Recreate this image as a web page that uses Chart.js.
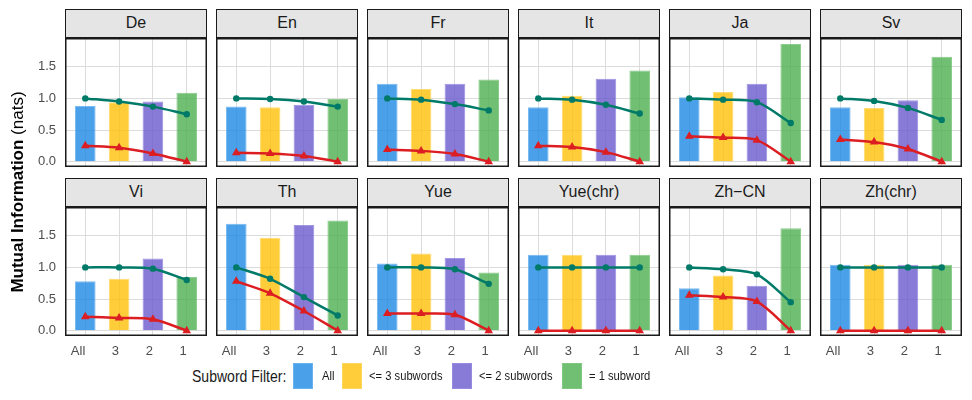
<!DOCTYPE html>
<html>
<head>
<meta charset="utf-8">
<script src="https://cdn.jsdelivr.net/npm/chart.js@4/dist/chart.umd.min.js"></script>
<style>
  html, body { margin:0; padding:0; }
  body { width:972px; height:400px; background:#fff; position:relative; overflow:hidden;
         font-family:"Liberation Sans", Arial, Helvetica, sans-serif; color:#1a1a1a; }
  .strip { position:absolute; box-sizing:border-box; border:1.5px solid #1a1a1a; background:#e5e5e5;
           text-align:center; font-size:16px; line-height:26px; color:#1a1a1a; }
  canvas { position:absolute; }
  .ytitle { position:absolute; width:320px; text-align:center; font-size:17px; line-height:20px;
            transform:rotate(-90deg); white-space:nowrap; color:#000; }
  .ytitle b { font-weight:bold; }
  .leg-title { position:absolute; font-size:16.5px; line-height:20px; white-space:nowrap; transform-origin:left center; transform:scaleX(0.85); }
  .leg-box { position:absolute; box-sizing:border-box; border:1px solid; }
  .leg-label { position:absolute; font-size:13.5px; line-height:16px; white-space:nowrap; transform-origin:left center; transform:scaleX(0.83); }
</style>
</head>
<body>
<div id="root"></div>
<script>
// ---------------- data ----------------
const panels = ['De','En','Fr','It','Ja','Sv','Vi','Th','Yue','Yue(chr)','Zh\u2212CN','Zh(chr)'];
const categories = ['All','3','2','1'];
const filterLabels = ['All','<= 3 subwords','<= 2 subwords','= 1 subword'];
const yTicks = [0, 0.5, 1.0, 1.5];

// bar heights per panel (one array per subword filter)
const barAll = [0.88, 0.87, 1.23, 0.86, 1.02, 0.86, 0.78, 1.69, 1.06, 1.20, 0.67, 1.04];
const bar3   = [0.94, 0.86, 1.15, 1.04, 1.10, 0.85, 0.82, 1.47, 1.22, 1.20, 0.87, 1.04];
const bar2   = [0.95, 0.90, 1.23, 1.31, 1.23, 0.97, 1.14, 1.67, 1.15, 1.20, 0.71, 1.04];
const bar1   = [1.09, 0.99, 1.30, 1.44, 1.86, 1.66, 0.85, 1.74, 0.92, 1.20, 1.62, 1.04];

// green line (circles) per panel
const upperAll = [1.00, 1.00, 1.00, 1.00, 1.00, 1.00, 1.00, 1.00, 1.00, 1.00, 1.00, 1.00];
const upper3   = [0.95, 0.99, 0.98, 0.98, 0.98, 0.96, 1.00, 0.82, 1.00, 1.00, 0.97, 1.00];
const upper2   = [0.87, 0.95, 0.91, 0.90, 0.94, 0.85, 0.98, 0.53, 0.97, 1.00, 0.89, 1.00];
const upper1   = [0.75, 0.87, 0.81, 0.76, 0.61, 0.66, 0.80, 0.24, 0.74, 1.00, 0.45, 1.00];

// red line (triangles) per panel
const lowerAll = [0.25, 0.14, 0.19, 0.25, 0.40, 0.35, 0.22, 0.78, 0.27, 0.00, 0.56, 0.00];
const lower3   = [0.22, 0.13, 0.17, 0.23, 0.38, 0.31, 0.20, 0.59, 0.27, 0.00, 0.53, 0.00];
const lower2   = [0.13, 0.09, 0.12, 0.15, 0.34, 0.20, 0.18, 0.31, 0.25, 0.00, 0.46, 0.00];
const lower1   = [0.00, 0.00, 0.00, 0.00, 0.00, 0.00, 0.00, 0.00, 0.00, 0.00, 0.00, 0.00];

// ---------------- styles / layout ----------------
const barFill   = ['rgba(30,136,229,0.8)', 'rgba(255,193,7,0.8)', 'rgba(106,90,205,0.8)', 'rgba(76,175,80,0.8)'];
const barEdge   = ['rgba(110,180,240,0.9)', 'rgba(255,215,100,0.9)', 'rgba(150,140,225,0.9)', 'rgba(130,200,130,0.9)'];
const upperColor = '#007a68';
const lowerColor = '#dc1e22';

const colLeft = [65, 216, 367, 518, 669, 820];
const panelTop = [38, 207];
const stripTop = [9, 178];
const PW = 142, PH = 129, YW = 60, XH = 30;

const root = document.getElementById('root');

const boxPlugin = {
  id: 'panelBox',
  afterDraw(chart) {
    const {ctx, chartArea:a} = chart;
    ctx.save();
    ctx.strokeStyle = '#1a1a1a';
    ctx.lineWidth = 1.5;
    ctx.strokeRect(a.left + 0.75, a.top + 0.75, a.right - a.left - 1.5, a.bottom - a.top - 1.5);
    ctx.restore();
  }
};

function pts(vals) { return categories.map((c, j) => ({x: j, y: vals[j]})); }
function noPad(sc) { sc.paddingTop = 0; sc.paddingBottom = 0; sc.paddingLeft = 0; sc.paddingRight = 0; }

panels.forEach((name, i) => {
  const r = Math.floor(i / 6), c = i % 6;
  // strip
  const s = document.createElement('div');
  s.className = 'strip';
  s.style.left = colLeft[c] + 'px';
  s.style.top = stripTop[r] + 'px';
  s.style.width = PW + 'px';
  s.style.height = '29px';
  s.textContent = name;
  root.appendChild(s);

  const cv = document.createElement('canvas');
  cv.width = YW + PW; cv.height = PH + XH;
  cv.style.left = (colLeft[c] - YW) + 'px';
  cv.style.top = panelTop[r] + 'px';
  root.appendChild(cv);

  const bars  = [barAll[i], bar3[i], bar2[i], bar1[i]];
  const upper = [upperAll[i], upper3[i], upper2[i], upper1[i]];
  const lower = [lowerAll[i], lower3[i], lower2[i], lower1[i]];

  new Chart(cv, {
    type: 'bar',
    data: {
      datasets: [
        { type:'bar', data: pts(bars), backgroundColor: barFill, borderColor: barEdge, borderWidth: 1,
          barPercentage: 0.61, categoryPercentage: 1, order: 3 },
        { type:'line', data: pts(upper), borderColor: upperColor, backgroundColor: upperColor, borderWidth: 2.5,
          pointStyle: 'circle', pointRadius: 3.2, pointBorderWidth: 0, tension: 0.3, order: 1, clip: 6 },
        { type:'line', data: pts(lower), borderColor: lowerColor, backgroundColor: lowerColor, borderWidth: 2.5,
          pointStyle: 'triangle', pointRadius: 5, pointBorderWidth: 0, tension: 0.3, order: 0, clip: 6 }
      ]
    },
    options: {
      responsive: false, animation: false, devicePixelRatio: 1,
      layout: { padding: 0, autoPadding: false },
      plugins: { legend: { display:false }, tooltip: { enabled:false } },
      scales: {
        x: {
          type: 'linear', min: -0.6, max: 3.6, offset: false,
          grid: { color:'#dcdcdc', lineWidth:1, drawTicks:false, offset:false },
          border: { display:false },
          afterBuildTicks: sc => { sc.ticks = categories.map((_, j) => ({value: j})); },
          afterFit: sc => { sc.height = XH; noPad(sc); },
          ticks: { display: r === 1, align: 'end', padding: 8, maxRotation: 0, autoSkip: false,
                   color:'#4d4d4d', font: { family:'"Liberation Sans", Arial, sans-serif', size: 13 },
                   callback: v => categories[Math.round(v)] }
        },
        y: {
          min: -0.085, max: 1.955,
          grid: { color:'#dcdcdc', lineWidth:1, drawTicks:false },
          border: { display:false },
          afterBuildTicks: sc => { sc.ticks = yTicks.map(v => ({value: v})); },
          afterFit: sc => { sc.width = YW; noPad(sc); },
          ticks: { display: c === 0, padding: 9, color:'#4d4d4d',
                   font: { family:'"Liberation Sans", Arial, sans-serif', size: 13 },
                   callback: v => Number(v).toFixed(1) }
        }
      }
    },
    plugins: [boxPlugin]
  });
});

// y-axis title
const yt = document.createElement('div');
yt.className = 'ytitle';
yt.innerHTML = '<b>Mutual Information</b> (nats)';
yt.style.left = (17.5 - 160) + 'px';
yt.style.top = (192 - 10) + 'px';
root.appendChild(yt);

// legend
const lt = document.createElement('div');
lt.className = 'leg-title';
lt.textContent = 'Subword Filter:';
lt.style.left = '192px'; lt.style.top = '366px';
root.appendChild(lt);
const boxLeft = [293, 342, 452, 562];
const labelLeft = [322, 369, 479, 589];
filterLabels.forEach((lab, k) => {
  const b = document.createElement('div');
  b.className = 'leg-box';
  b.style.left = boxLeft[k] + 'px'; b.style.top = '363px';
  b.style.width = '20px'; b.style.height = '26px';
  b.style.background = barFill[k]; b.style.borderColor = barEdge[k];
  root.appendChild(b);
  const t = document.createElement('div');
  t.className = 'leg-label';
  t.textContent = lab;
  t.style.left = labelLeft[k] + 'px'; t.style.top = '368px';
  root.appendChild(t);
});
</script>
</body>
</html>
